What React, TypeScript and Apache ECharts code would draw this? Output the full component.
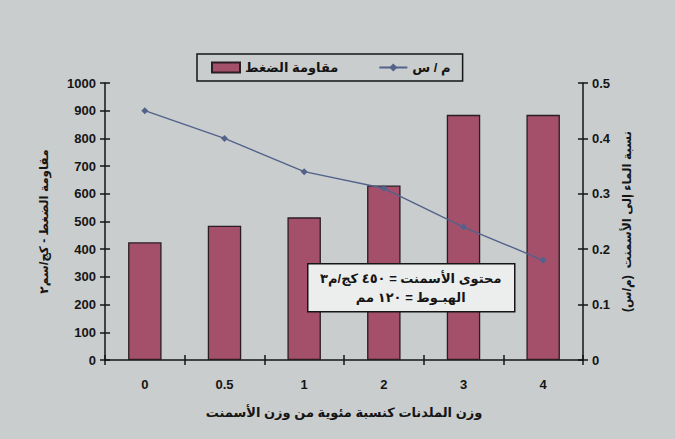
import React, { useEffect, useRef } from "react";
import * as echarts from "echarts";

// Plasticizer dosage (% of cement weight)
const categories = ["0", "0.5", "1", "2", "3", "4"];
// Compressive strength, kg/cm²
const strengthValues = [425, 485, 515, 630, 885, 885];
// Water / cement ratio
const wcValues = [0.45, 0.4, 0.34, 0.31, 0.24, 0.18];

const strengthName = "مقاومة الضغط";
const wcName = "م / س";
const leftAxisTitle = "مقاومة الضغط - كج/سم٢";
const rightAxisTitle = "نسبة الماء إلى الأسمنت  (م/س)";
const xAxisTitle = "وزن الملدنات كنسبة مئوية من وزن الأسمنت";
const noteLines = ["محتوى الأسمنت = ٤٥٠ كج/م٣", "الهبـوط = ١٢٠ مم"];

const FONT = "'Liberation Sans', 'DejaVu Sans', sans-serif";
const INK = "#151515";

export default function App() {
  const ref = useRef<HTMLDivElement>(null);

  useEffect(() => {
    if (!ref.current) return;
    const chart = echarts.init(ref.current, null, { renderer: "svg" });

    const tickStyle = { color: INK, width: 1.5 };
    const labelStyle = { color: INK, fontWeight: "bold" as const, fontSize: 13, fontFamily: FONT };

    chart.setOption({
      animation: false,
      backgroundColor: "#c9cdce",
      textStyle: { fontFamily: FONT },
      grid: { left: 105, right: 92, top: 83, bottom: 79 },
      legend: {
        left: 197,
        top: 54,
        padding: [7, 12, 7, 14],
        itemGap: 40,
        itemWidth: 28,
        itemHeight: 10,
        borderColor: INK,
        borderWidth: 1.5,
        textStyle: { color: INK, fontWeight: "bold", fontSize: 13, fontFamily: FONT },
        data: [
          { name: strengthName, icon: "rect" },
          { name: wcName },
        ],
      },
      xAxis: [
        {
          type: "category",
          data: categories,
          position: "bottom",
          axisLine: { lineStyle: tickStyle },
          axisTick: { show: true, length: 5, lineStyle: tickStyle },
          axisLabel: { ...labelStyle, margin: 18 },
          name: xAxisTitle,
          nameLocation: "middle",
          nameGap: 46,
          nameTextStyle: { color: INK, fontWeight: "bold", fontSize: 13, fontFamily: FONT },
        },
        {
          // inner half of the crossing tick marks
          type: "category",
          data: categories,
          position: "bottom",
          axisLine: { show: false },
          axisTick: { show: true, inside: true, length: 5, lineStyle: tickStyle },
          axisLabel: { show: false },
        },
      ],
      yAxis: [
        {
          type: "value",
          position: "left",
          min: 0,
          max: 1000,
          interval: 100,
          axisLine: { show: true, lineStyle: tickStyle },
          axisTick: { show: true, length: 5, lineStyle: tickStyle },
          axisLabel: { ...labelStyle, margin: 9, formatter: (v: number) => String(v) },
          splitLine: { show: false },
          name: leftAxisTitle,
          nameLocation: "middle",
          nameGap: 55,
          nameRotate: 90,
          nameTextStyle: { color: INK, fontWeight: "bold", fontSize: 12, fontFamily: FONT },
        },
        {
          type: "value",
          position: "right",
          min: 0,
          max: 0.5,
          interval: 0.1,
          axisLine: { show: true, lineStyle: tickStyle },
          axisTick: { show: true, length: 5, lineStyle: tickStyle },
          axisLabel: {
            ...labelStyle,
            margin: 9,
            formatter: (v: number) => (v === 0 ? "0" : v.toFixed(1)),
          },
          splitLine: { show: false },
          name: rightAxisTitle,
          nameLocation: "middle",
          nameGap: 38,
          nameRotate: 90,
          nameTextStyle: { color: INK, fontWeight: "bold", fontSize: 12, fontFamily: FONT },
        },
        {
          type: "value",
          position: "left",
          min: 0,
          max: 1000,
          interval: 100,
          axisLine: { show: false },
          axisTick: { show: true, inside: true, length: 5, lineStyle: tickStyle },
          axisLabel: { show: false },
          splitLine: { show: false },
        },
        {
          type: "value",
          position: "right",
          min: 0,
          max: 0.5,
          interval: 0.1,
          axisLine: { show: false },
          axisTick: { show: true, inside: true, length: 5, lineStyle: tickStyle },
          axisLabel: { show: false },
          splitLine: { show: false },
        },
      ],
      series: [
        {
          name: strengthName,
          type: "bar",
          data: strengthValues,
          xAxisIndex: 0,
          yAxisIndex: 0,
          barWidth: "42%",
          itemStyle: { color: "#a4506b", borderColor: "#2a1d23", borderWidth: 1.3 },
        },
        {
          name: wcName,
          type: "line",
          data: wcValues,
          xAxisIndex: 0,
          yAxisIndex: 1,
          symbol: "diamond",
          symbolSize: 7,
          lineStyle: { color: "#52628a", width: 1.4 },
          itemStyle: { color: "#52628a" },
        },
      ],
      graphic: [
        {
          type: "group",
          left: 307,
          top: 263,
          z: 100,
          children: [
            {
              type: "rect",
              z: 100,
              shape: { x: 0, y: 0, width: 207, height: 48 },
              style: { fill: "#eceeed", stroke: INK, lineWidth: 1.5 },
            },
            {
              type: "text",
              z: 101,
              x: 103,
              y: 15,
              style: {
                text: noteLines[0],
                fill: INK,
                font: `bold 13px ${FONT}`,
                textAlign: "center",
                textVerticalAlign: "middle",
              },
            },
            {
              type: "text",
              z: 101,
              x: 103,
              y: 34,
              style: {
                text: noteLines[1],
                fill: INK,
                font: `bold 13px ${FONT}`,
                textAlign: "center",
                textVerticalAlign: "middle",
              },
            },
          ],
        },
      ],
    });

    return () => chart.dispose();
  }, []);

  return (
    <div
      ref={ref}
      style={{ position: "fixed", left: 0, top: 0, width: 675, height: 439 }}
    />
  );
}
